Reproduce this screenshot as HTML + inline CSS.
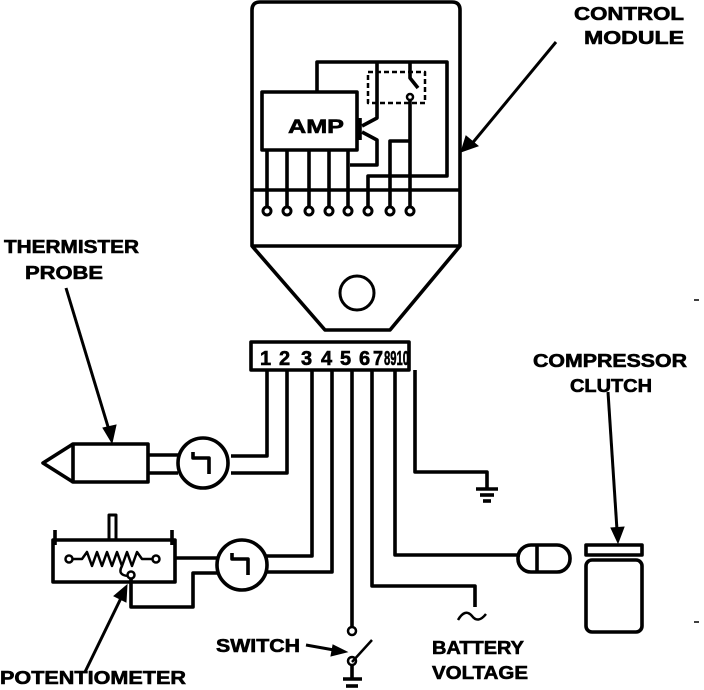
<!DOCTYPE html>
<html><head><meta charset="utf-8"><style>
html,body{margin:0;padding:0;background:#fff;}
svg{display:block;}
text{font-family:"Liberation Sans",sans-serif;font-weight:bold;fill:#000;stroke:#000;stroke-width:0.6;}
</style></head><body>
<svg width="704" height="690" viewBox="0 0 704 690" xmlns="http://www.w3.org/2000/svg">
<g fill="none" stroke="#000" stroke-width="3.6" stroke-linejoin="round">
<path d="M252,246 L252,10 Q252,2 260,2 L452,2 Q460,2 460,10 L460,246 L390,330 L325,330 Z"/>
<line x1="252" y1="190" x2="460" y2="190"/>
<line x1="252" y1="246" x2="460" y2="246"/>
<circle cx="357" cy="293" r="17" stroke-width="3"/>
<rect x="262" y="92" width="95" height="58"/>
<path d="M317,92 V62 H447 V176 H368 V206"/>
<rect x="368" y="72" width="57" height="31" stroke-dasharray="5,3" stroke-width="2.5"/>
<path d="M377,62 V118 L362,126"/>
<line x1="360" y1="118" x2="360" y2="140"/>
<path d="M362,132 L377,140 V165 H350"/>
<path d="M410,62 V78 L418,88"/>
<circle cx="410" cy="97" r="3" stroke-width="2.5"/>
<path d="M410,100 V206"/>
<path d="M390,206 V141 H410"/>
<line x1="267" y1="150" x2="267" y2="206"/>
<line x1="287" y1="150" x2="287" y2="206"/>
<line x1="309" y1="150" x2="309" y2="206"/>
<line x1="329" y1="150" x2="329" y2="206"/>
<line x1="348" y1="150" x2="348" y2="206"/>
<g stroke-width="3">
<circle cx="267" cy="211" r="4"/><circle cx="287" cy="211" r="4"/><circle cx="309" cy="211" r="4"/><circle cx="329" cy="211" r="4"/><circle cx="348" cy="211" r="4"/><circle cx="368" cy="211" r="4"/><circle cx="390" cy="211" r="4"/><circle cx="410" cy="211" r="4"/>
</g>
<rect x="251" y="342" width="158" height="28"/>
<path d="M267,370 V456 H231"/>
<path d="M287,370 V473 H231"/>
<path d="M312,370 V556 H266"/>
<path d="M332,370 V572 H266"/>
<path d="M352,370 V627"/>
<circle cx="352" cy="631" r="4" stroke-width="2.5"/>
<path d="M372,370 V586 H475 V607"/>
<path d="M458,620 Q465,608 472,616 Q478,624 486,614" stroke-width="2.5"/>
<path d="M395,370 V555 H520"/>
<path d="M415,370 V472 H487 V488"/>
<line x1="476" y1="489" x2="498" y2="489"/><line x1="480" y1="495" x2="494" y2="495"/><line x1="483" y1="501" x2="491" y2="501"/>
<circle cx="203" cy="463" r="25"/>
<path d="M193,452 V458 H209 V474"/>
<rect x="73" y="444" width="75" height="38"/>
<path d="M73,444 L43,463 L73,482"/>
<path d="M148,455 H178 M148,473 H178"/>
<circle cx="242" cy="565" r="25"/>
<path d="M232,553 V559 H248 V575"/>
<rect x="53" y="540" width="122" height="42"/>
<path d="M55,545 V530 M172,545 V530"/>
<path d="M109,540 V515 H116 V540" stroke-width="3"/>
<line x1="175" y1="558" x2="217" y2="558"/>
<circle cx="69" cy="559" r="3.5" stroke-width="2.5"/>
<circle cx="156" cy="559" r="3.5" stroke-width="2.5"/>
<path d="M73,559 H82 L87,552 L92,566 L97,552 L102,566 L107,552 L112,566 L117,552 L122,566 L127,552 L132,566 L137,552 L142,559 H152" stroke-width="2.5"/>
<path d="M122,566 Q117,575 128,576" stroke-width="2.5"/>
<circle cx="131" cy="575" r="3.5" stroke-width="2.5"/>
<path d="M131,579 V607 H193 V573 H217"/>
<path d="M352,662 L372,640" stroke-width="2.5"/>
<circle cx="352" cy="661" r="4" stroke-width="2.5"/>
<path d="M352,665 V678"/>
<line x1="343" y1="679" x2="362" y2="679"/><line x1="346" y1="686" x2="358" y2="686"/>
<rect x="518" y="545" width="52" height="27" rx="13"/>
<line x1="537" y1="545" x2="537" y2="572"/>
<rect x="586" y="545" width="56" height="10"/>
<rect x="586" y="560" width="56" height="72" rx="6"/>
</g>
<g stroke="#000" stroke-width="3" fill="#000">
<line x1="556" y1="42" x2="470" y2="146"/><polygon points="461,152 466,136 478,146" stroke-width="1"/>
<line x1="66" y1="288" x2="109" y2="430"/><polygon points="112,443 103,428 116,425" stroke-width="1"/>
<line x1="85" y1="672" x2="122" y2="596"/><polygon points="127,585 126,602 114,596" stroke-width="1"/>
<line x1="306" y1="645" x2="334" y2="650"/><polygon points="347,652 333,645 331,656" stroke-width="1"/>
<line x1="608" y1="392" x2="617" y2="530"/><polygon points="618,543 611,528 624,527" stroke-width="1"/>
<line x1="694" y1="300" x2="699" y2="300" stroke-width="1.5"/>
<line x1="694" y1="622" x2="699" y2="622" stroke-width="1.5"/>
</g>
<g font-size="18">
<text x="288" y="133" font-size="19" textLength="56" lengthAdjust="spacingAndGlyphs">AMP</text>
<text x="574" y="20" textLength="110" lengthAdjust="spacingAndGlyphs">CONTROL</text>
<text x="584" y="44" textLength="100" lengthAdjust="spacingAndGlyphs">MODULE</text>
<text x="4" y="253" textLength="135" lengthAdjust="spacingAndGlyphs">THERMISTER</text>
<text x="25" y="279" textLength="78" lengthAdjust="spacingAndGlyphs">PROBE</text>
<text x="533" y="367" textLength="154" lengthAdjust="spacingAndGlyphs">COMPRESSOR</text>
<text x="570" y="392" textLength="82" lengthAdjust="spacingAndGlyphs">CLUTCH</text>
<text x="216" y="652" textLength="84" lengthAdjust="spacingAndGlyphs">SWITCH</text>
<text x="432" y="654" textLength="92" lengthAdjust="spacingAndGlyphs">BATTERY</text>
<text x="432" y="679" textLength="96" lengthAdjust="spacingAndGlyphs">VOLTAGE</text>
<text x="0" y="684" textLength="186" lengthAdjust="spacingAndGlyphs">POTENTIOMETER</text>
</g>
<g font-size="20">
<text x="260" y="365">1</text>
<text x="279" y="365">2</text>
<text x="301" y="365">3</text>
<text x="321" y="365">4</text>
<text x="340" y="365">5</text>
<text x="359" y="365">6</text>
<text x="373" y="365" textLength="10" lengthAdjust="spacingAndGlyphs">7</text>
<text x="384" y="365" textLength="25" lengthAdjust="spacingAndGlyphs">8910</text>
</g>
</svg>
</body></html>
